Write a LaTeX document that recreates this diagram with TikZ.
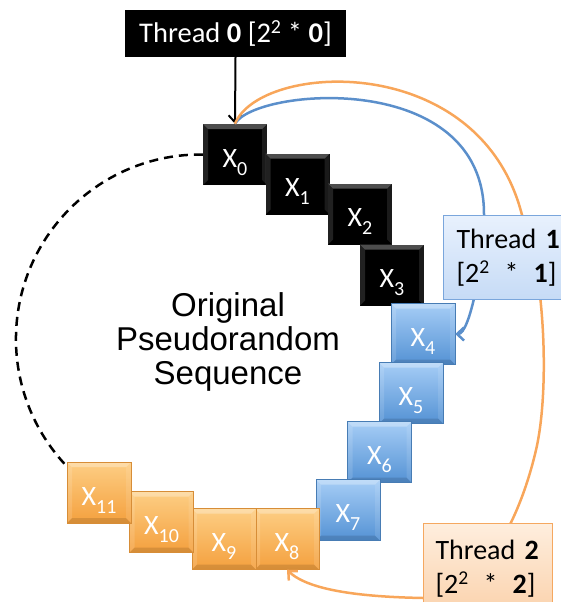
\documentclass[tikz,border=0pt]{standalone}
\usepackage{fontspec}
\setmainfont{Carlito}
\newfontfamily\arialfont{Liberation Sans}
\usetikzlibrary{arrows.meta}
\definecolor{blueA}{RGB}{166,205,246}
\definecolor{blueB}{RGB}{84,146,212}
\definecolor{orA}{RGB}{253,206,132}
\definecolor{orB}{RGB}{244,160,62}
\definecolor{blueline}{RGB}{91,143,203}
\definecolor{orline}{RGB}{248,166,90}
\definecolor{tAfill}{RGB}{232,241,253}
\definecolor{tBfill}{RGB}{198,219,246}
\definecolor{tedge}{RGB}{122,166,220}
\definecolor{uAfill}{RGB}{254,238,222}
\definecolor{uBfill}{RGB}{251,210,172}
\definecolor{uedge}{RGB}{245,168,96}
\newcommand{\xsubnum}[1]{\raisebox{-8pt}{\fontsize{20}{20}\selectfont #1}}
\tikzset{
  bevelfx/.style={path picture={
    \fill[white,opacity=0.30] (path picture bounding box.north west) -- (path picture bounding box.north east)
      -- ([shift={(-5pt,-5pt)}]path picture bounding box.north east) -- ([shift={(5pt,-5pt)}]path picture bounding box.north west) -- cycle;
    \fill[white,opacity=0.13] (path picture bounding box.north west) -- ([shift={(5pt,-5pt)}]path picture bounding box.north west)
      -- ([shift={(5pt,5pt)}]path picture bounding box.south west) -- (path picture bounding box.south west) -- cycle;
    \fill[white,opacity=0.10] (path picture bounding box.north east) -- ([shift={(-5pt,-5pt)}]path picture bounding box.north east)
      -- ([shift={(-5pt,5pt)}]path picture bounding box.south east) -- (path picture bounding box.south east) -- cycle;
    \fill[black,opacity=0.12] (path picture bounding box.south west) -- (path picture bounding box.south east)
      -- ([shift={(-5pt,5pt)}]path picture bounding box.south east) -- ([shift={(5pt,5pt)}]path picture bounding box.south west) -- cycle;
  }},
  xbox/.style={rectangle, minimum width=64pt, minimum height=61pt, inner sep=0pt,
    text=white, font=\fontsize{28}{28}\selectfont, text height=30pt, text depth=5pt, bevelfx},
  blackbox/.style={xbox, fill=black},
  bluebox/.style={xbox, top color=blueA, bottom color=blueB, draw=blueB!85!black, line width=0.4pt},
  orangebox/.style={xbox, top color=orA, bottom color=orB, draw=orB!88!black, line width=0.4pt},
  threadzero/.style={rectangle, fill=black, text=white, minimum width=221pt, minimum height=47pt,
    inner sep=0pt, font=\fontsize{28.5}{28.5}\selectfont},
  threadone/.style={rectangle, top color=tAfill, bottom color=tBfill, draw=tedge, line width=1pt,
    anchor=north west, minimum height=84pt, text width=114pt, inner xsep=13pt, inner ysep=0pt,
    align=left, font=\fontsize{28}{34}\selectfont},
  threadtwo/.style={rectangle, top color=uAfill, bottom color=uBfill, draw=uedge, line width=1pt,
    anchor=north west, minimum height=90pt, text width=105pt, inner xsep=12pt, inner ysep=0pt,
    align=left, font=\fontsize{28}{34}\selectfont},
  tiparrow/.style={-{Straight Barb[length=7pt,width=13pt]}},
  bluecurve/.style={tiparrow, draw=blueline, line width=2.5pt},
  orcurve/.style={tiparrow, draw=orline, line width=2.5pt},
  blackarrow/.style={tiparrow, draw=black, line width=2pt},
  dasharc/.style={draw=black, line width=2.5pt, dash pattern=on 9pt off 6pt},
  seqtext/.style={align=center, font=\arialfont\fontsize{33}{34}\selectfont}
}
\begin{document}
\begin{tikzpicture}[x=1pt,y=1pt]
\useasboundingbox (0,0) rectangle (561,-602);

% boxes of the sequence
\node[blackbox] (X0) at (235,-154.5) {X\xsubnum{0}};
\draw[dasharc] (X0.west) arc[start angle=89.3, end angle=223.6, radius=184.6pt];
\node[blackbox] (X1) at (297.5,-184) {X\xsubnum{1}};
\node[blackbox] (X2) at (360,-214) {X\xsubnum{2}};
\node[blackbox] (X3) at (392,-275) {X\xsubnum{3}};
\node[bluebox] (X4) at (423,-334) {X\xsubnum{4}};
\node[bluebox] (X5) at (411,-393) {X\xsubnum{5}};
\node[bluebox] (X6) at (379.5,-452) {X\xsubnum{6}};
\node[bluebox] (X7) at (348,-510) {X\xsubnum{7}};
\node[orangebox] (X8) at (287,-539) {X\xsubnum{8}};
\node[orangebox] (X9) at (224,-539) {X\xsubnum{9}};
\node[orangebox] (X10) at (161.5,-522) {X\xsubnum{10}};
\node[orangebox] (X11) at (99,-492.5) {X\xsubnum{11}};

\node[seqtext] (seq) at (228,-342) {Original\\Pseudorandom\\Sequence};

% thread 0
\node[threadzero] (T0) at (235.5,-33.5) {Thread \textbf{0} [2\textsuperscript{2} * \textbf{0}]};
\draw[blackarrow] (T0.south) -- (X0.north);

% curves
\draw[bluecurve] (X0.north) .. controls (255,-88) and (485,-68) .. (484,-215)
  .. controls (484,-260) and (470,-334) .. (X4.east);
\draw[orcurve] (X0.north) .. controls (260,-62) and (480,-50) .. (522,-215)
  .. controls (545,-270) and (550,-390) .. (536,-450)
  .. controls (515,-540) and (470,-600) .. (423,-598)
  .. controls (370,-597) and (310,-592) .. (X8.south);

% thread boxes
\node[threadone] (T1) at (443,-215) {Thread \textbf{1}\\{[}2\textsuperscript{2}\hspace{15pt}*\hspace{15pt}\textbf{1}]};
\node[threadtwo] (T2) at (423,-523) {Thread \textbf{2}\\{[}2\textsuperscript{2}\hspace{15pt}*\hspace{15pt}\textbf{2}]};
\end{tikzpicture}
\end{document}
